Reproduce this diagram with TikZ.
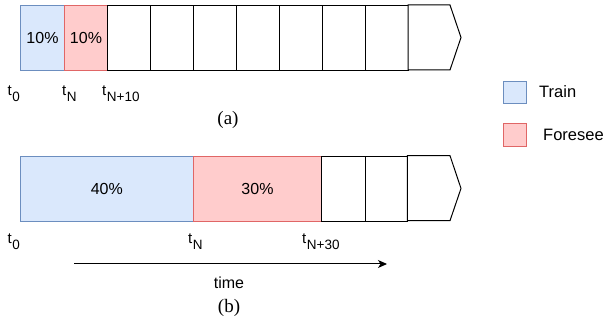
\documentclass[tikz,border=0pt]{standalone}
\usepackage{fontspec}
\setmainfont{Liberation Sans}
\newfontfamily\capfont{Liberation Serif}
\usetikzlibrary{arrows.meta}

\definecolor{trainfill}{HTML}{DAE8FC}
\definecolor{trainline}{HTML}{6C8EBF}
\definecolor{foreseefill}{HTML}{FFCCCC}
\definecolor{foreseeline}{HTML}{E06666}

\newcommand{\tlabel}[1]{t\kern0.6pt\raisebox{-6pt}{\fontsize{13.5}{13.5}\selectfont #1}}

\tikzset{
  cellbox/.style={draw=black, line width=1pt, fill=white, inner sep=0pt,
    minimum height=#1, anchor=north west, font=\fontsize{16}{18}\selectfont},
  cellbox/.default=65pt,
  trainbox/.style={draw=trainline, fill=trainfill},
  foreseebox/.style={draw=foreseeline, fill=foreseefill},
  tickname/.style={inner sep=0pt, anchor=base west, font=\fontsize{15}{18}\selectfont},
  legendtext/.style={inner sep=0pt, anchor=west, font=\fontsize{16.5}{18}\selectfont},
  caption/.style={inner sep=0pt, font=\capfont\fontsize{19}{21}\selectfont},
  endcell/.style={draw=black, line width=1pt, fill=white, line join=miter},
}

\begin{document}
\begin{tikzpicture}[x=1pt, y=-1pt]
\useasboundingbox (0,0) rectangle (605,320);

% ---- (a): ten equal slots ----
\node[cellbox, trainbox,   minimum width=44pt] (a1) at (20,5)  {10\%};
\node[cellbox, foreseebox, minimum width=43pt] (a2) at (64,5)  {10\%};
\foreach \i/\x in {3/107,4/150,5/193,6/236,7/279,8/322,9/365}
  \node[cellbox, minimum width=43pt] (a\i) at (\x,5) {};
\draw[endcell] (408,5) -- (450,5) -- (461,37.5) -- (450,70) -- (408,70) -- cycle;

\node[tickname] (a-t0)   at (7.5,96) {\tlabel{0}};
\node[tickname] (a-tN)   at (62,96)  {\tlabel{N}};
\node[tickname] (a-tN10) at (102,96) {\tlabel{N+10}};
\node[caption] (cap-a) at (228,120) {(a)};

% ---- (b): train / foresee spans ----
\node[cellbox=65pt, trainbox,   minimum width=172.7pt] (b1) at (20,155.7)    {40\%};
\node[cellbox=65pt, foreseebox, minimum width=128.6pt] (b2) at (192.7,155.7) {30\%};
\node[cellbox=65pt, minimum width=43.4pt] (b3) at (321.3,155.7) {};
\node[cellbox=65pt, minimum width=42.6pt] (b4) at (364.7,155.7) {};
\draw[endcell] (407.3,155.7) -- (450,155.7) -- (461,188.4) -- (450,220.7) -- (407.3,220.7) -- cycle;

\node[tickname] (b-t0)   at (7.5,244) {\tlabel{0}};
\node[tickname] (b-tN)   at (188,244) {\tlabel{N}};
\node[tickname] (b-tN30) at (302,244) {\tlabel{N+30}};

% time axis
\coordinate (time-start) at (74,264);
\coordinate (time-end)   at (387,264);
\draw[line width=1pt, -{Stealth[length=9pt, width=8pt, inset=2.5pt]}] (time-start) -- (time-end);
\node[inner sep=0pt, font=\fontsize{16}{18}\selectfont] (time) at (229,282.5) {time};
\node[caption] (cap-b) at (229,308) {(b)};

% ---- legend ----
\node[draw=trainline, fill=trainfill, line width=1pt, minimum width=23pt, minimum height=22pt, inner sep=0pt, anchor=north west] (leg-train) at (503,81) {};
\node[draw=foreseeline, fill=foreseefill, line width=1pt, minimum width=23pt, minimum height=23pt, inner sep=0pt, anchor=north west] (leg-foresee) at (503,123) {};
\node[legendtext] (leg-train-text)   at (539,92)  {Train};
\node[legendtext] (leg-foresee-text) at (543,134.5) {Foresee};
\end{tikzpicture}
\end{document}
